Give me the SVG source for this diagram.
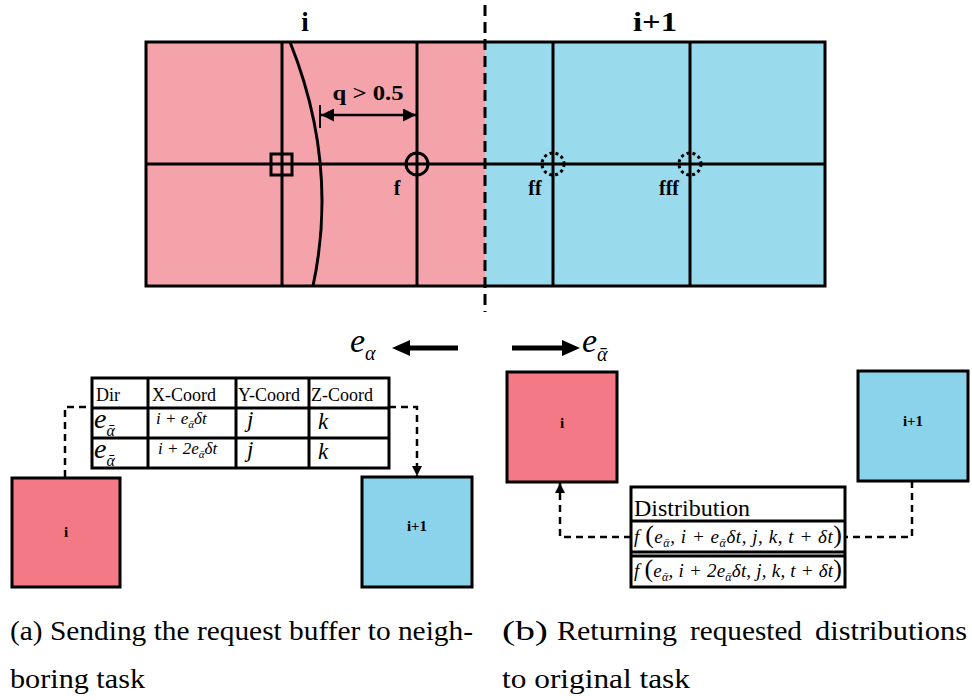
<svg xmlns="http://www.w3.org/2000/svg" width="972" height="700" viewBox="0 0 972 700">
<style>
.ln{stroke:#000;stroke-width:3;fill:none}
.bold{font-family:"Liberation Serif","Times New Roman",serif;font-weight:bold}
.serif{font-family:"Liberation Serif","Times New Roman",serif}
.mi{font-family:"Liberation Serif","Times New Roman","DejaVu Serif",serif;font-style:italic}
.up{font-style:normal}
.dash{stroke:#000;stroke-width:2.5;fill:none;stroke-dasharray:7 5}
.box{stroke:#000;stroke-width:3}
.pink{fill:#f27985}
.blue{fill:#8bd3ea}
.cap{font-family:"Liberation Serif","Times New Roman",serif;font-size:28px}
.ctr{text-anchor:middle}
</style>
<defs>
<marker id="ah" viewBox="0 0 10 10" refX="10" refY="5" markerWidth="10" markerHeight="10" markerUnits="userSpaceOnUse" orient="auto-start-reverse"><path d="M0,0 L10,5 L0,10 z" fill="#000"/></marker>
<marker id="dm" viewBox="0 0 12 12" refX="12" refY="6" markerWidth="13" markerHeight="13" markerUnits="userSpaceOnUse" orient="auto-start-reverse"><path d="M0,0 L12,6 L0,12 z" fill="#000"/></marker>
</defs>

<g id="domain">
<rect x="146" y="42" width="339" height="244" fill="#f5a3ab"/>
<rect x="485" y="42" width="340" height="244" fill="#99daed"/>
<rect x="146" y="42" width="679" height="244" class="ln" stroke-width="3.5"/>
<line x1="282" y1="42" x2="282" y2="286" class="ln"/>
<line x1="417" y1="42" x2="417" y2="286" class="ln"/>
<line x1="553" y1="42" x2="553" y2="286" class="ln"/>
<line x1="690" y1="42" x2="690" y2="286" class="ln"/>
<line x1="146" y1="164" x2="825" y2="164" class="ln"/>
<path d="M290,42 Q339,164 313,286" class="ln" stroke-width="4.5"/>
<line x1="485" y1="5" x2="485" y2="312" stroke="#000" stroke-width="3" stroke-dasharray="11 6"/>
<rect x="271" y="154" width="21" height="21" class="ln" stroke-width="2.5"/>
<circle cx="417" cy="164" r="11" class="ln"/>
<circle cx="553" cy="164" r="11" class="ln" stroke-dasharray="3 3"/>
<circle cx="690" cy="164" r="11" class="ln" stroke-dasharray="3 3"/>
<line x1="320" y1="105" x2="320" y2="128" stroke="#000" stroke-width="2"/>
<line x1="321" y1="115" x2="416" y2="115" stroke="#000" stroke-width="2.5" marker-start="url(#dm)" marker-end="url(#dm)"/>
<text x="368" y="100" class="bold ctr" font-size="21" textLength="71" lengthAdjust="spacingAndGlyphs">q &gt; 0.5</text>
<text x="305" y="31" class="bold ctr" font-size="27">i</text>
<text x="655" y="31" class="bold ctr" font-size="27" textLength="44" lengthAdjust="spacingAndGlyphs">i+1</text>
<text x="397" y="195" class="bold ctr" font-size="20">f</text>
<text x="535" y="195" class="bold ctr" font-size="20">ff</text>
<text x="669" y="195" class="bold ctr" font-size="20">fff</text>
</g>

<g id="directions">
<line x1="406" y1="348" x2="458" y2="348" stroke="#000" stroke-width="5"/>
<polygon points="392,348 410,340 410,356" fill="#000"/>
<text x="350" y="352" class="mi" font-size="34">e<tspan font-size="20" dy="8">α</tspan></text>
<line x1="512" y1="348" x2="566" y2="348" stroke="#000" stroke-width="5"/>
<polygon points="580,348 562,340 562,356" fill="#000"/>
<text x="582" y="352" class="mi" font-size="34">e<tspan font-size="20" dy="9">ᾱ</tspan></text>
</g>

<g id="connectors">
<path d="M65,477 V407 H92" class="dash"/>
<path d="M389,407 H417 V476" class="dash" marker-end="url(#ah)"/>
<path d="M912,481 V537 H845" class="dash"/>
<path d="M631,537 H560 V483" class="dash" marker-end="url(#ah)"/>
</g>

<g id="request-table">
<rect x="92" y="378" width="297" height="90" fill="#fff" class="box"/>
<line x1="92" y1="408" x2="389" y2="408" class="ln"/>
<line x1="92" y1="438" x2="389" y2="438" class="ln"/>
<line x1="148" y1="378" x2="148" y2="468" class="ln"/>
<line x1="236" y1="378" x2="236" y2="468" class="ln"/>
<line x1="309" y1="378" x2="309" y2="468" class="ln"/>
<text x="96" y="401" class="serif" font-size="18">Dir</text>
<text x="152" y="401" class="serif" font-size="18">X-Coord</text>
<text x="238" y="401" class="serif" font-size="18">Y-Coord</text>
<text x="311" y="401" class="serif" font-size="18">Z-Coord</text>
<text x="94" y="428" class="mi" font-size="28">e<tspan font-size="16" dy="8">ᾱ</tspan></text>
<text x="94" y="458" class="mi" font-size="28">e<tspan font-size="16" dy="8">ᾱ</tspan></text>
<text x="156" y="424" class="mi" font-size="17">i + e<tspan font-size="11" dy="4">ᾱ</tspan><tspan dy="-4">δt</tspan></text>
<text x="158" y="454" class="mi" font-size="17">i + 2e<tspan font-size="11" dy="4">ᾱ</tspan><tspan dy="-4">δt</tspan></text>
<text x="247" y="427" class="mi" font-size="23">j</text>
<text x="247" y="457" class="mi" font-size="23">j</text>
<text x="318" y="429" class="mi" font-size="23">k</text>
<text x="318" y="459" class="mi" font-size="23">k</text>
</g>

<g id="a-task-i">
<rect x="12" y="478" width="108" height="109" class="box pink"/>
<text x="66" y="537" class="bold ctr" font-size="15">i</text>
</g>
<g id="a-task-i1">
<rect x="362" y="477" width="110" height="110" class="box blue"/>
<text x="417" y="531" class="bold ctr" font-size="15">i+1</text>
</g>

<g id="b-task-i">
<rect x="507" y="372" width="110" height="110" class="box pink"/>
<text x="562" y="428" class="bold ctr" font-size="15">i</text>
</g>
<g id="b-task-i1">
<rect x="858" y="371" width="110" height="110" class="box blue"/>
<text x="913" y="426" class="bold ctr" font-size="15">i+1</text>
</g>

<g id="distribution-table">
<rect x="631" y="487" width="214" height="100" fill="#fff" class="box"/>
<line x1="631" y1="521" x2="845" y2="521" class="ln"/>
<line x1="631" y1="552" x2="845" y2="552" class="ln" stroke-width="2.5"/>
<line x1="631" y1="556" x2="845" y2="556" class="ln" stroke-width="2.5"/>
<text x="634" y="516" class="serif" font-size="24">Distribution</text>
<text x="634" y="543" class="mi" font-size="19" textLength="208" lengthAdjust="spacing">f <tspan class="up" font-size="26">(</tspan>e<tspan font-size="12" dy="4">ᾱ</tspan><tspan dy="-4">, i + e</tspan><tspan font-size="12" dy="4">ᾱ</tspan><tspan dy="-4">δt, j, k, t + δt</tspan><tspan class="up" font-size="26">)</tspan></text>
<text x="634" y="577" class="mi" font-size="19" textLength="208" lengthAdjust="spacing">f <tspan class="up" font-size="26">(</tspan>e<tspan font-size="12" dy="4">ᾱ</tspan><tspan dy="-4">, i + 2e</tspan><tspan font-size="12" dy="4">ᾱ</tspan><tspan dy="-4">δt, j, k, t + δt</tspan><tspan class="up" font-size="26">)</tspan></text>
</g>

<g id="captions">
<text x="10" y="640" class="cap" textLength="463" lengthAdjust="spacingAndGlyphs">(a) Sending the request buffer to neigh-</text>
<text x="10" y="688" class="cap" textLength="135" lengthAdjust="spacingAndGlyphs">boring task</text>
<text x="502" y="640" class="cap" textLength="46" lengthAdjust="spacingAndGlyphs">(b)</text>
<text x="557" y="640" class="cap" textLength="120" lengthAdjust="spacingAndGlyphs">Returning</text>
<text x="690" y="640" class="cap" textLength="112" lengthAdjust="spacingAndGlyphs">requested</text>
<text x="815" y="640" class="cap" textLength="152" lengthAdjust="spacingAndGlyphs">distributions</text>
<text x="502" y="688" class="cap" textLength="188" lengthAdjust="spacingAndGlyphs">to original task</text>
</g>
</svg>
